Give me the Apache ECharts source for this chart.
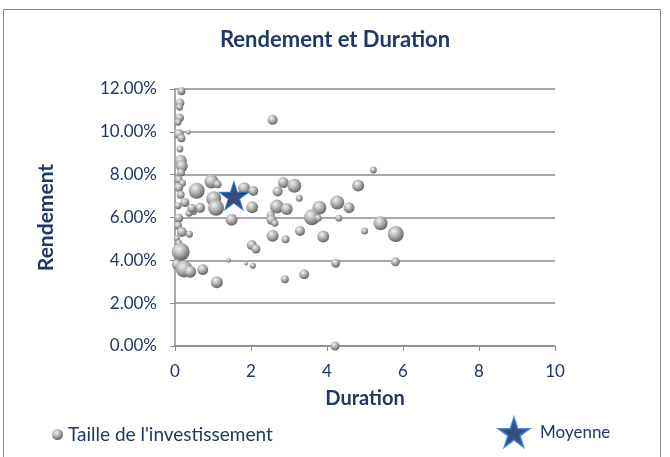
<!DOCTYPE html>
<html>
<head>
<meta charset="utf-8">
<script src="https://cdn.jsdelivr.net/npm/echarts@6/dist/echarts.min.js"></script>
<style>
  html, body { margin: 0; padding: 0; background: #fff; }
  #chart { width: 670px; height: 457px; }
</style>
</head>
<body>
<div id="chart"></div>
<script>
// Duration (years), Rendement (%), Taille (investment size)
const duration = [
  0.17, 0.13, 0.12, 0.12, 0.08, 0.10, 0.35, 0.17, 0.13, 0.15,
  0.18, 0.16, 0.10, 0.20, 0.10, 0.15, 0.26, 0.08, 0.48, 0.37,
  0.10, 0.08, 0.18, 0.38, 0.05, 0.10, 0.15, 0.05, 0.24, 0.40,
  0.73, 1.10, 1.41, 1.87, 2.05, 0.57, 0.96, 1.12, 1.02, 1.08,
  0.66, 0.44, 1.49, 1.82, 2.06, 2.03, 2.85, 3.14, 2.70, 3.27,
  4.82, 2.68, 2.94, 2.52, 2.54, 2.63, 3.80, 3.60, 3.77, 4.27,
  4.58, 4.31, 5.41, 5.81, 4.99, 2.57, 2.91, 3.29, 3.90, 2.02,
  2.13, 4.23, 5.80, 2.89, 3.40, 4.21, 2.57, 5.22
];
const rendement = [
  11.90, 11.35, 11.15, 10.65, 10.45, 9.90, 9.98, 9.70, 9.20, 8.65,
  8.40, 8.10, 7.76, 7.60, 7.40, 7.06, 6.70, 6.55, 6.30, 6.20,
  5.97, 5.62, 5.32, 5.22, 5.03, 4.80, 4.40, 3.80, 3.60, 3.47,
  3.57, 2.98, 4.00, 3.85, 3.75, 7.25, 7.68, 7.55, 6.88, 6.45,
  6.45, 6.43, 5.90, 7.37, 7.24, 6.48, 7.63, 7.48, 7.21, 6.90,
  7.49, 6.51, 6.40, 6.12, 5.89, 5.73, 6.46, 6.01, 5.97, 6.70,
  6.46, 5.97, 5.73, 5.23, 5.37, 5.15, 4.98, 5.37, 5.11, 4.72,
  4.53, 3.86, 3.93, 3.12, 3.35, 0.00, 10.56, 8.22
];
const taille = [
  16, 20, 12, 20, 12, 25, 6, 16, 12, 36,
  36, 16, 16, 12, 20, 16, 20, 12, 16, 12,
  20, 16, 25, 12, 9, 12, 81, 25, 72, 36,
  30, 36, 6, 4, 9, 64, 49, 16, 56, 64,
  25, 20, 36, 36, 25, 36, 30, 49, 25, 12,
  36, 49, 36, 16, 25, 12, 49, 64, 12, 49,
  30, 12, 49, 64, 12, 36, 16, 25, 36, 25,
  20, 20, 20, 16, 25, 20, 25, 12
];
const moyenne = [1.55, 7.02];
const xTicks = [0, 2, 4, 6, 8, 10];
const yTicks = [0, 2, 4, 6, 8, 10, 12];

const navy = '#1f3864';
const font = 'Lato, "Open Sans", sans-serif';
const starPath = 'path://M50 0 L61.23 34.55 L97.55 34.55 L68.17 55.9 L79.39 90.45 L50 69.1 L20.61 90.45 L31.83 55.9 L2.45 34.55 L38.77 34.55 Z';

const bubbles = duration.map((d, i) => [d, rendement[i], taille[i]]);

const sphere = new echarts.graphic.RadialGradient(0.38, 0.32, 0.72, [
  { offset: 0, color: '#f2f2f2' },
  { offset: 0.45, color: '#b4b4b4' },
  { offset: 1, color: '#5e5e5e' }
]);

const chart = echarts.init(document.getElementById('chart'));
chart.setOption({
  backgroundColor: '#fff',
  animation: false,
  textStyle: { fontFamily: font },
  title: {
    text: 'Rendement et Duration',
    left: 'center',
    top: 24,
    textStyle: { color: navy, fontSize: 22, fontWeight: 'bold', fontFamily: font }
  },
  graphic: [{
    type: 'rect',
    shape: { x: 3.5, y: 9.5, width: 657, height: 460 },
    style: { fill: 'none', stroke: '#8c8c8c', lineWidth: 1 },
    silent: true
  }],
  legend: [{
    data: ["Taille de l'investissement"],
    left: 47,
    top: 420,
    itemWidth: 11,
    itemHeight: 11,
    itemGap: 3,
    textStyle: { color: navy, fontSize: 19, fontFamily: font }
  }, {
    data: ['Moyenne'],
    left: 493,
    top: 412,
    itemWidth: 30,
    itemHeight: 29,
    textStyle: { color: navy, fontSize: 17, fontFamily: font, padding: [0, 0, 0, 6] }
  }],
  grid: { left: 175, right: 115, top: 89, bottom: 111 },
  xAxis: {
    type: 'value',
    min: xTicks[0],
    max: xTicks[xTicks.length - 1],
    interval: 2,
    name: 'Duration',
    nameLocation: 'middle',
    nameGap: 43,
    nameTextStyle: { color: navy, fontSize: 20, fontWeight: 'bold', fontFamily: font },
    axisLine: { show: true, lineStyle: { color: '#8c8c8c', width: 1.5 } },
    axisTick: { show: true, length: 5, lineStyle: { color: '#8c8c8c' } },
    axisLabel: { color: navy, fontSize: 17, margin: 17, fontFamily: font },
    splitLine: { show: false }
  },
  yAxis: {
    type: 'value',
    min: yTicks[0],
    max: yTicks[yTicks.length - 1],
    interval: 2,
    name: 'Rendement',
    nameLocation: 'middle',
    nameGap: 118,
    nameRotate: 90,
    nameTextStyle: { color: navy, fontSize: 21, fontWeight: 'bold', fontFamily: font },
    axisLine: { show: true, lineStyle: { color: '#8c8c8c', width: 1.5 } },
    axisTick: { show: true, length: 5, lineStyle: { color: '#8c8c8c' } },
    axisLabel: {
      color: navy, fontSize: 17, margin: 18, fontFamily: font,
      formatter: v => v.toFixed(2) + '%'
    },
    splitLine: { show: true, lineStyle: { color: '#8c8c8c', width: 1.5 } }
  },
  series: [{
    name: "Taille de l'investissement",
    type: 'scatter',
    data: bubbles,
    symbolSize: d => Math.sqrt(d[2]) * 2,
    itemStyle: { color: sphere, opacity: 1 },
    z: 2
  }, {
    name: 'Moyenne',
    type: 'scatter',
    data: [moyenne],
    symbol: starPath,
    symbolSize: [29, 28],
    itemStyle: { color: '#04225e', borderColor: '#2a6fc4', borderWidth: 1.2 },
    z: 3
  }]
});
</script>
</body>
</html>
